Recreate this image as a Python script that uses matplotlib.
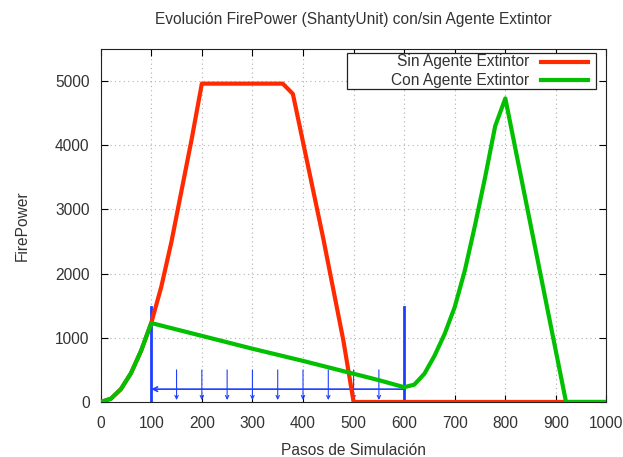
import matplotlib.pyplot as plt
from matplotlib.lines import Line2D
from matplotlib.patches import Rectangle

plt.rcParams['font.family'] = ['Liberation Sans', 'DejaVu Sans']
plt.rcParams['text.color'] = '#333333'
plt.rcParams['axes.labelcolor'] = '#333333'
plt.rcParams['xtick.labelcolor'] = '#333333'
plt.rcParams['ytick.labelcolor'] = '#333333'

# Sin Agente Extintor
pasos_sin = [0, 20, 40, 60, 80, 100, 120, 140, 160, 180, 200, 250, 300, 360, 380,
             400, 420, 440, 460, 480, 500, 600, 700, 800, 900, 1000]
fp_sin = [0, 50, 200, 450, 800, 1230, 1800, 2500, 3300, 4100, 4960, 4960, 4960, 4960, 4800,
          4050, 3300, 2550, 1750, 950, 0, 0, 0, 0, 0, 0]

# Con Agente Extintor
pasos_con = [0, 20, 40, 60, 80, 100, 200, 300, 400, 500, 550, 600, 620, 640, 660, 680,
             700, 720, 740, 760, 780, 800, 920, 1000]
fp_con = [0, 50, 200, 450, 800, 1230, 1030, 830, 640, 440, 340, 230, 270, 440, 720, 1060,
          1480, 2050, 2750, 3500, 4300, 4730, 0, 0]

series = [('Sin Agente Extintor', '#ff2a00'), ('Con Agente Extintor', '#00c000')]

# anotaciones
marcas_x = [100, 600]
marca_alto = 1480
flecha_y = 200
flechas_x = [150, 200, 250, 300, 350, 400, 450, 500, 550]
flecha_top, flecha_bot = 500, 30

azul = '#1f3fff'
fs = 11.2

fig = plt.figure(figsize=(6.23, 4.57), dpi=100)
ax = fig.add_axes([0.1616, 0.1204, 0.9735 - 0.1616, 0.8928 - 0.1204])

for x in flechas_x:
    ax.annotate('', xy=(x, flecha_bot), xytext=(x, flecha_top),
                arrowprops=dict(arrowstyle='->', color=azul, lw=0.8,
                                shrinkA=0, shrinkB=0, mutation_scale=6), zorder=2)
ax.annotate('', xy=(marcas_x[0], flecha_y), xytext=(marcas_x[1], flecha_y),
            arrowprops=dict(arrowstyle='->', color=azul, lw=1.2,
                            shrinkA=0, shrinkB=0, mutation_scale=8), zorder=2)
for x in marcas_x:
    ax.plot([x, x], [0, marca_alto], color=azul, lw=2, zorder=2)

ax.plot(pasos_sin, fp_sin, color=series[0][1], lw=3, zorder=3)
ax.plot(pasos_con, fp_con, color=series[1][1], lw=3, zorder=4)

ax.set_xlim(0, 1000)
ax.set_ylim(0, 5500)
ax.set_xticks(range(0, 1001, 100))
ax.set_yticks(range(0, 5001, 1000))
ax.grid(True, color='#b0b0b0', linestyle=(0, (1, 3)), lw=0.8)
ax.tick_params(direction='in', top=True, right=True, labelsize=fs, length=5)
ax.tick_params(axis='x', pad=10)
ax.tick_params(axis='y', pad=8)
for s in ax.spines.values():
    s.set_color('#222222')

ax.set_title('Evolución FirePower (ShantyUnit) con/sin Agente Extintor', fontsize=fs, pad=18)
ax.set_xlabel('Pasos de Simulación', fontsize=fs, labelpad=9)
ax.set_ylabel('FirePower', fontsize=fs, labelpad=18)

# leyenda estilo gnuplot: texto a la derecha, muestra de linea al final
ax.add_patch(Rectangle((0.486, 0.886), 0.494, 0.102, transform=ax.transAxes,
                       facecolor='white', edgecolor='#222222', lw=0.9, zorder=5))
for (label, color), yy in zip(series, [0.964, 0.912]):
    ax.text(0.848, yy, label, transform=ax.transAxes, ha='right', va='center',
            fontsize=fs, zorder=6)
    ax.add_line(Line2D([0.870, 0.963], [yy, yy], transform=ax.transAxes,
                       color=color, lw=3, zorder=6))

fig.savefig('out.png', dpi=100)
